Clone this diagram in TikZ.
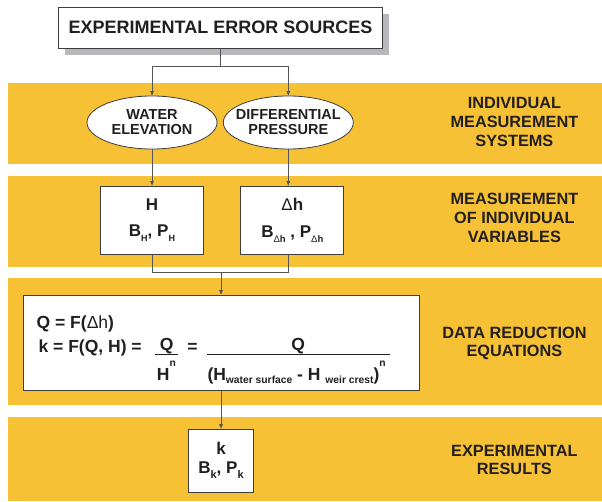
\documentclass[tikz,border=0pt]{standalone}
\usepackage{fontspec}
\setmainfont{Liberation Sans}
\usepackage{xcolor}
\usepackage{tikz}
\usetikzlibrary{shapes.geometric, arrows.meta, positioning, shadows, calc}
\definecolor{bandyellow}{RGB}{246,193,52}
\definecolor{inkdark}{RGB}{35,31,32}
\definecolor{edgegrey}{RGB}{60,60,60}
\definecolor{linegrey}{RGB}{85,85,85}
\definecolor{shadowgrey}{RGB}{184,184,188}
\newcommand{\lowsub}[2][9.5]{\raisebox{-5pt}{\fontsize{#1}{#1}\selectfont #2}}
\newcommand{\eqsub}[1]{\raisebox{-3.3pt}{\fontsize{10.3}{10.3}\selectfont #1}}
\newcommand{\eqsup}[1]{\raisebox{14pt}{\fontsize{10.3}{10.3}\selectfont #1}}

\begin{document}
\begin{tikzpicture}[
    x=1pt, y=-1pt,
    band/.style={fill=bandyellow},
    titlebox/.style={rectangle, draw=edgegrey, fill=white, line width=0.9pt, minimum width=324pt, minimum height=41pt, inner sep=0pt, font=\bfseries\fontsize{18}{18}\selectfont, text=inkdark, drop shadow={shadow xshift=6pt, shadow yshift=-7pt, fill=shadowgrey, opacity=1}},
    sysellipse/.style={ellipse, draw=edgegrey, fill=white, line width=0.8pt, minimum width=130pt, minimum height=53pt, inner xsep=-8pt, inner ysep=0pt, align=center, font=\bfseries\fontsize{14.5}{15}\selectfont, text=inkdark},
    varbox/.style={rectangle, draw=edgegrey, fill=white, line width=0.8pt, inner sep=0pt, align=center, font=\bfseries\fontsize{17}{26.7}\selectfont, text=inkdark},
    eqtext/.style={anchor=base west, inner sep=0pt, font=\bfseries\fontsize{17.5}{17.5}\selectfont, text=inkdark},
    eqpart/.style={eqtext, anchor=base},
    bandlabel/.style={align=center, inner sep=0pt, font=\bfseries\fontsize{16.3}{18.7}\selectfont, text=inkdark},
    barline/.style={draw=inkdark, line width=0.8pt},
    link/.style={draw=linegrey, line width=0.7pt},
    arrow/.style={link, -{Triangle[length=4.5pt, width=3.5pt]}}
]
\useasboundingbox (0,0) rectangle (602,501);
\fill[white] (0,0) rectangle (602,501);

\fill[band] (8,83) rectangle (602,164);
\fill[band] (8,176) rectangle (602,267);
\fill[band] (8,278) rectangle (602,405);
\fill[band] (8,417) rectangle (602,501);

\node[titlebox] (src) at (220.5,27.8) {EXPERIMENTAL ERROR SOURCES};
\coordinate (split) at (220.5,66.7);

\node[sysellipse] (water) at (152,122.5) {WATER\\ELEVATION};
\node[sysellipse] (dp) at (288.3,122.5) {DIFFERENTIAL\\PRESSURE};

\node[varbox, minimum width=103pt, minimum height=68pt] (hvar) at (152,220) {H\\B\lowsub[9]{H}, P\lowsub[9]{H}};
\node[varbox, minimum width=103pt, minimum height=68pt] (dhvar) at (292.3,220) {\textmd{Δ}h\\B\lowsub{\textmd{Δ}h} , P\lowsub{\textmd{Δ}h}};
\coordinate (merge) at (221,272);

\node[rectangle, draw=edgegrey, fill=white, line width=0.8pt, minimum width=396pt, minimum height=95pt] (eqbox) at (221,342.5) {};
\node[eqtext] (eqflow) at (36.5,328) {Q = F(\textmd{Δh})};
\node[eqtext] (eqk) at (38.4,352.5) {k = F(Q, H) =};
\node[eqpart] (numa) at (166.7,350) {Q};
\node[eqtext] (dena) at (156.7,380) {H\eqsup{n}};
\node[eqpart] (eqmid) at (192.5,352.5) {=};
\node[eqpart] (numb) at (298.3,350) {Q};
\node[eqtext] (denb) at (207.3,380) {(H\eqsub{water surface} - H \eqsub{weir crest})\eqsup{n}};
\draw[barline] (155,354) -- (178.3,354);
\draw[barline] (207.3,354) -- (390,354);

\node[varbox, minimum width=64.5pt, minimum height=63pt, font=\bfseries\fontsize{17}{19.3}\selectfont] (kvar) at (221,460.5) {k\\B\lowsub[11]{k}, P\lowsub[11]{k}};

\node[bandlabel] (labsys) at (514.4,122) {INDIVIDUAL\\MEASUREMENT\\SYSTEMS};
\node[bandlabel] (labvar) at (514.4,218) {MEASUREMENT\\OF INDIVIDUAL\\VARIABLES};
\node[bandlabel] (labeq) at (514.4,343.3) {DATA REDUCTION\\EQUATIONS};
\node[bandlabel] (labres) at (514.4,460) {EXPERIMENTAL\\RESULTS};

\draw[link] (src.south) -- (split);
\draw[arrow] (split) -| (water.north);
\draw[arrow] (split) -| (dp.north);
\draw[arrow] (water.south) -- (water.south |- hvar.north);
\draw[arrow] (dp.south) -- (dp.south |- dhvar.north);
\draw[link] (water.south |- hvar.south) |- (merge);
\draw[link] (dp.south |- dhvar.south) |- (merge);
\draw[arrow] (merge) -- (eqbox.north);
\draw[arrow] (eqbox.south) -- (kvar.north);
\end{tikzpicture}
\end{document}
